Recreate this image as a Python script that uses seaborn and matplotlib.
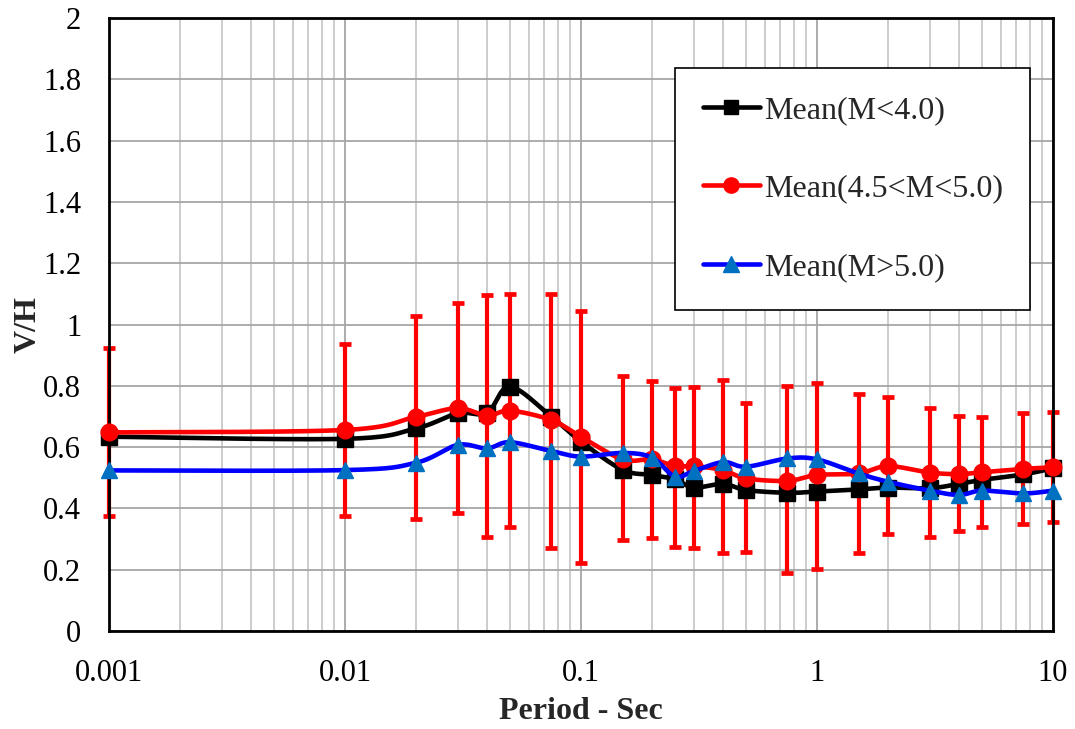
import numpy as np
import pandas as pd
import matplotlib
matplotlib.use("Agg")
import matplotlib.pyplot as plt
import seaborn as sns

# ---- data ----
periods = [0.001, 0.01, 0.02, 0.03, 0.04, 0.05, 0.075, 0.1, 0.15, 0.2, 0.25, 0.3,
           0.4, 0.5, 0.75, 1, 1.5, 2, 3, 4, 5, 7.5, 10]
mean_lt40 = [0.634, 0.627, 0.661, 0.710, 0.712, 0.797, 0.699, 0.618, 0.526, 0.509, 0.495, 0.468,
             0.480, 0.460, 0.451, 0.455, 0.462, 0.468, 0.466, 0.480, 0.493, 0.511, 0.531]
mean_45_50 = [0.648, 0.656, 0.699, 0.727, 0.703, 0.719, 0.688, 0.634, 0.560, 0.560, 0.538, 0.538,
              0.525, 0.498, 0.490, 0.509, 0.514, 0.538, 0.517, 0.512, 0.518, 0.529, 0.534]
mean_gt50 = [0.524, 0.525, 0.549, 0.607, 0.596, 0.616, 0.587, 0.569, 0.581, 0.566, 0.504, 0.522,
             0.551, 0.536, 0.563, 0.560, 0.514, 0.487, 0.458, 0.444, 0.458, 0.449, 0.458]
err_hi = [0.924, 0.936, 1.028, 1.069, 1.096, 1.099, 1.099, 1.045, 0.831, 0.817, 0.794, 0.795,
          0.819, 0.745, 0.799, 0.810, 0.773, 0.765, 0.727, 0.703, 0.699, 0.710, 0.716]
err_lo = [0.375, 0.375, 0.366, 0.384, 0.306, 0.338, 0.272, 0.223, 0.296, 0.302, 0.275, 0.272,
          0.253, 0.259, 0.188, 0.202, 0.253, 0.316, 0.308, 0.326, 0.338, 0.349, 0.355]
labels = ["Mean(M<4.0)", "Mean(4.5<M<5.0)", "Mean(M>5.0)"]
x_ticks = [0.001, 0.01, 0.1, 1, 10]
x_ticklabels = ["0.001", "0.01", "0.1", "1", "10"]
y_ticks = [0, 0.2, 0.4, 0.6, 0.8, 1.0, 1.2, 1.4, 1.6, 1.8, 2.0]
y_ticklabels = ["0", "0.2", "0.4", "0.6", "0.8", "1", "1.2", "1.4", "1.6", "1.8", "2"]


def smooth(xs, ys, n=30):
    """Excel-like smoothed line (Catmull-Rom Bezier) in log-x space."""
    lx = np.log10(np.asarray(xs, float))
    y = np.asarray(ys, float)
    P = np.column_stack([lx, y])
    P = np.vstack([P[0], P, P[-1]])
    out = []
    t = np.linspace(0, 1, n)[:, None]
    for i in range(1, len(P) - 2):
        p0, p1, p2, p3 = P[i - 1], P[i], P[i + 1], P[i + 2]
        c1 = p1 + (p2 - p0) / 6.0
        c2 = p2 - (p3 - p1) / 6.0
        seg = ((1 - t) ** 3) * p1 + 3 * ((1 - t) ** 2) * t * c1 + 3 * (1 - t) * t ** 2 * c2 + t ** 3 * p2
        out.append(seg if i == 1 else seg[1:])
    out = np.vstack(out)
    return 10 ** out[:, 0], out[:, 1]


sns.set_theme(style="white")
plt.rcParams['font.family'] = ['Liberation Serif', 'DejaVu Serif']

fig = plt.figure(figsize=(10.75, 7.29), dpi=100)
ax = fig.add_axes([0.1014, 0.1344, 0.8781, 0.8409])
ax.set_xscale("log")
ax.set_xlim(0.001, 10)
ax.set_ylim(0, 2)

# grid
ax.set_axisbelow(True)
ax.grid(True, which="major", axis="y", color="#a6a6a6", lw=1.3)
ax.grid(True, which="major", axis="x", color="#a6a6a6", lw=1.3)
ax.grid(True, which="minor", axis="x", color="#c8c8c8", lw=1.3)

# error bars (red)
mid = np.array(mean_45_50)
yerr = np.vstack([mid - np.array(err_lo), np.array(err_hi) - mid])
eb = ax.errorbar(periods, mean_45_50, yerr=yerr, fmt="none", ecolor="#ff0000",
                 elinewidth=3.0, capsize=4.2, capthick=3.4, zorder=2)
for art in eb.lines[1] + eb.lines[2]:
    art.set_clip_on(False)

series = [
    (mean_lt40, "black", "black", "s", 11),
    (mean_45_50, "#ff0000", "#ff0000", "o", 12),
    (mean_gt50, "#0000ff", "#0070c0", "^", 12),
]
handles = []
for k, (vals, lc, mc, mk, ms) in enumerate(series):
    sx, sy = smooth(periods, vals)
    sns.lineplot(x=sx, y=sy, sort=False, estimator=None, color=lc, lw=3.3, ax=ax,
                 zorder=3 + k, clip_on=False)
    ax.plot(periods, vals, ls="none", marker=mk, ms=ms, mfc=mc, mec=mc, zorder=3 + k,
            clip_on=False)
    h, = ax.plot([], [], color=lc, lw=3.3, marker=mk, ms=ms - 1, mfc=mc, mec=mc)
    handles.append(h)

ax.set_xticks(x_ticks)
ax.set_xticklabels(x_ticklabels)
ax.set_yticks(y_ticks)
ax.set_yticklabels(y_ticklabels)
ax.tick_params(axis="x", which="major", length=8, color="#a6a6a6", width=1.3, labelsize=22, pad=12)
ax.tick_params(axis="x", which="minor", length=0)
ax.tick_params(axis="y", length=0, labelsize=22, pad=20)
for lbl in ax.get_xticklabels() + ax.get_yticklabels():
    lbl.set_color("black")

for side in ["left", "right", "top", "bottom"]:
    ax.spines[side].set_color("black")
    ax.spines[side].set_linewidth(2)

ax.set_xlabel("Period - Sec", fontsize=23, fontweight="bold")
ax.set_ylabel("V/H", fontsize=23, fontweight="bold")
ax.xaxis.set_label_coords(0.5, -0.108)
ax.yaxis.set_label_coords(-0.086, 0.5)
ax.yaxis.label.set_verticalalignment("center")

leg = ax.legend(handles, labels, loc="upper left", bbox_to_anchor=(0.600, 0.918),
                fontsize=23, frameon=True, fancybox=False, framealpha=1,
                edgecolor="black", handlelength=1.8, handletextpad=0.12,
                labelspacing=1.55, borderpad=0.85, borderaxespad=0)
leg.get_frame().set_linewidth(1.2)

fig.savefig("out.png", dpi=100)
